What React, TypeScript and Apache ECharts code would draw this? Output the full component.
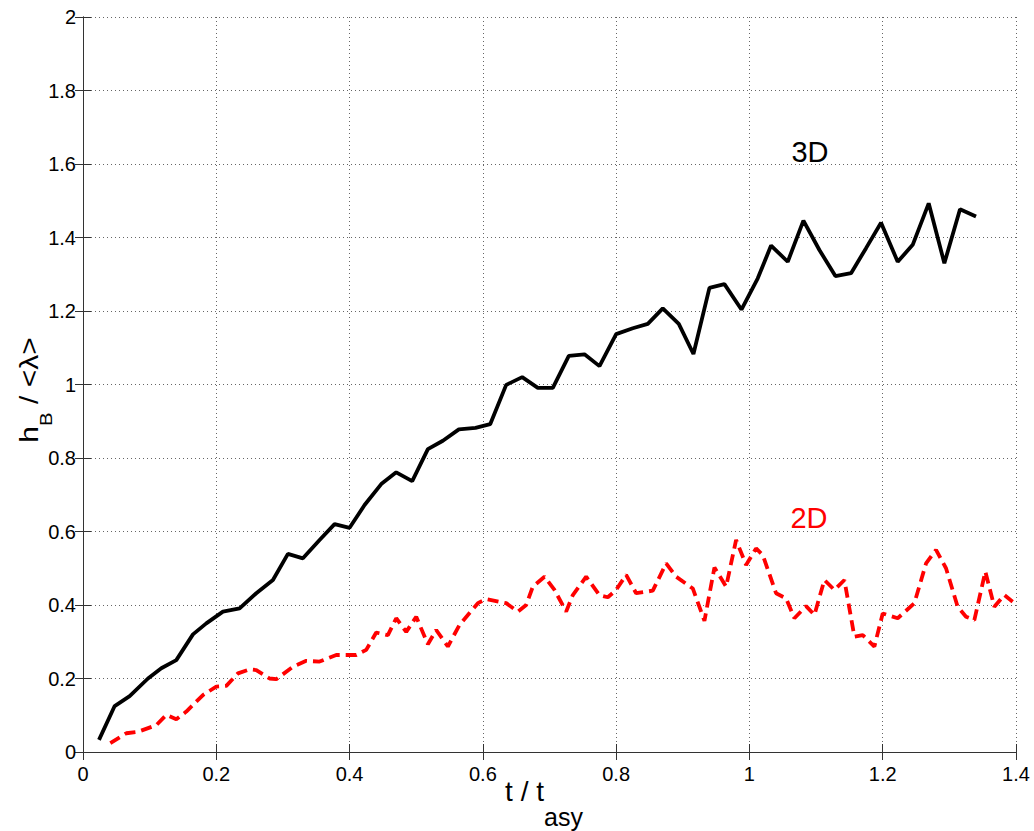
import React, { useEffect, useRef } from "react";
import * as echarts from "echarts";

// Bubble height h_B/<λ> against normalised time t/t_asy, 3D and 2D runs
const t3D = [
  0.024, 0.0475, 0.07, 0.0975, 0.1175, 0.14, 0.165, 0.185, 0.21, 0.235, 0.26, 0.285,
  0.3075, 0.33, 0.355, 0.3775, 0.4, 0.4225, 0.4475, 0.47, 0.494, 0.5175, 0.54, 0.564,
  0.589, 0.611, 0.635, 0.659, 0.6825, 0.705, 0.729, 0.7525, 0.775, 0.8, 0.825, 0.8475,
  0.87, 0.894, 0.916, 0.94, 0.9625, 0.988, 1.0125, 1.0325, 1.0575, 1.081, 1.105, 1.129,
  1.1525, 1.175, 1.1975, 1.2225, 1.245, 1.269, 1.2925, 1.316, 1.34,
];
const h3D = [
  0.033, 0.125, 0.152, 0.2, 0.228, 0.25, 0.32, 0.35, 0.382, 0.391, 0.432, 0.468,
  0.539, 0.527, 0.577, 0.62, 0.61, 0.672, 0.729, 0.761, 0.737, 0.824, 0.847, 0.878,
  0.882, 0.892, 0.999, 1.02, 0.991, 0.991, 1.078, 1.082, 1.05, 1.137, 1.153, 1.165,
  1.207, 1.165, 1.083, 1.263, 1.273, 1.204, 1.289, 1.378, 1.334, 1.446, 1.366, 1.295,
  1.303, 1.371, 1.44, 1.334, 1.38, 1.493, 1.33, 1.477, 1.457,
];

const t2D = [
  0.041, 0.065, 0.0825, 0.11, 0.125, 0.14, 0.155, 0.18, 0.2, 0.215, 0.2325, 0.25, 0.26,
  0.28, 0.29, 0.315, 0.335, 0.355, 0.38, 0.41, 0.425, 0.44, 0.4575, 0.47, 0.485, 0.5,
  0.5175, 0.53, 0.5475, 0.565, 0.5925, 0.605, 0.635, 0.6525, 0.665, 0.675, 0.6925,
  0.7075, 0.725, 0.735, 0.755, 0.775, 0.7875, 0.8, 0.815, 0.83, 0.855, 0.875, 0.89,
  0.915, 0.9325, 0.9475, 0.965, 0.98, 0.995, 1.01, 1.02, 1.04, 1.055, 1.0675, 1.085,
  1.0975, 1.1125, 1.1275, 1.1425, 1.1575, 1.17, 1.1875, 1.2, 1.2225, 1.2475, 1.265,
  1.28, 1.295, 1.3125, 1.325, 1.3375, 1.354, 1.3675, 1.3825, 1.395,
];
const h2D = [
  0.024, 0.051, 0.055, 0.073, 0.101, 0.089, 0.11, 0.155, 0.178, 0.18, 0.214, 0.225, 0.223,
  0.2, 0.198, 0.232, 0.248, 0.246, 0.264, 0.264, 0.278, 0.325, 0.318, 0.364, 0.327, 0.368,
  0.293, 0.332, 0.287, 0.346, 0.405, 0.416, 0.405, 0.382, 0.4, 0.45, 0.477,
  0.441, 0.382, 0.427, 0.477, 0.427, 0.421, 0.441, 0.482, 0.432, 0.439, 0.513, 0.477,
  0.445, 0.357, 0.502, 0.45, 0.577, 0.509, 0.554, 0.536, 0.432, 0.418, 0.364, 0.397,
  0.373, 0.468, 0.441, 0.468, 0.314, 0.318, 0.287, 0.377, 0.364, 0.405, 0.513,
  0.55, 0.5, 0.395, 0.368, 0.359, 0.491, 0.395, 0.427, 0.409,
];

const FONT = "'Liberation Sans', Arial, Helvetica, sans-serif";

const fmtTick = (v: number) => String(Math.round(v * 10) / 10);

export default function App() {
  const ref = useRef<HTMLDivElement>(null);

  useEffect(() => {
    if (!ref.current) return;
    const chart = echarts.init(ref.current, null, { renderer: "svg" });

    const gridLine = { show: true, lineStyle: { color: "#666", width: 1, type: [1, 3] as any } };
    const axisLine = { show: true, lineStyle: { color: "#333", width: 1 } };
    const tick = { show: true, inside: true, length: 8, lineStyle: { color: "#333" } };

    chart.setOption({
      animation: false,
      backgroundColor: "#fff",
      grid: { left: 83, right: 18, top: 17, bottom: 79, containLabel: false },
      xAxis: [
        {
          type: "value",
          min: 0,
          max: 1.4,
          interval: 0.2,
          position: "bottom",
          axisLine,
          axisTick: tick,
          splitLine: gridLine,
          axisLabel: {
            color: "#000",
            fontSize: 20,
            fontFamily: FONT,
            margin: 12,
            formatter: fmtTick,
          },
        },
        {
          type: "value",
          min: 0,
          max: 1.4,
          interval: 0.2,
          position: "top",
          axisLine,
          axisTick: tick,
          splitLine: { show: false },
          axisLabel: { show: false },
        },
      ],
      yAxis: [
        {
          type: "value",
          min: 0,
          max: 2,
          interval: 0.2,
          position: "left",
          axisLine,
          axisTick: tick,
          splitLine: gridLine,
          axisLabel: {
            color: "#000",
            fontSize: 20,
            fontFamily: FONT,
            margin: 7,
            formatter: fmtTick,
          },
        },
        {
          type: "value",
          min: 0,
          max: 2,
          interval: 0.2,
          position: "right",
          axisLine,
          axisTick: tick,
          splitLine: { show: false },
          axisLabel: { show: false },
        },
      ],
      series: [
        {
          name: "3D",
          type: "line",
          data: t3D.map((t, i) => [t, h3D[i]]),
          showSymbol: false,
          symbol: "none",
          lineStyle: { color: "#000", width: 3.8 },
          z: 3,
        },
        {
          name: "2D",
          type: "line",
          data: t2D.map((t, i) => [t, h2D[i]]),
          showSymbol: false,
          symbol: "none",
          lineStyle: { color: "#ff0000", width: 3.8, type: [11, 6] as any, cap: "butt" },
          z: 3,
        },
      ],
      graphic: [
        {
          type: "text",
          x: 810,
          y: 152,
          style: {
            text: "3D",
            fill: "#000",
            font: `29px ${FONT}`,
            align: "center",
            verticalAlign: "middle",
          },
        },
        {
          type: "text",
          x: 809,
          y: 518,
          style: {
            text: "2D",
            fill: "#ff0000",
            font: `29px ${FONT}`,
            align: "center",
            verticalAlign: "middle",
          },
        },
        {
          type: "text",
          x: 544,
          y: 791,
          style: {
            text: "{m|t / t}{s|asy}",
            align: "center",
            verticalAlign: "middle",
            fill: "#000",
            rich: {
              m: { fontSize: 28, fontFamily: FONT, fill: "#000" },
              s: { fontSize: 25, fontFamily: FONT, fill: "#000", padding: [52, 0, 0, 0] },
            },
          },
        },
        {
          type: "text",
          x: 29,
          y: 390,
          rotation: Math.PI / 2,
          scaleX: 1.2,
          style: {
            text: "{m|h}{s|B}{m| / <λ>}",
            align: "center",
            verticalAlign: "middle",
            fill: "#000",
            rich: {
              m: { fontSize: 25, fontFamily: FONT, fill: "#000" },
              s: { fontSize: 17, fontFamily: FONT, fill: "#000", padding: [34, 0, 0, 0] },
            },
          },
        },
      ],
    });

    return () => chart.dispose();
  }, []);

  return (
    <div
      ref={ref}
      style={{ position: "fixed", left: 0, top: 0, width: 1034, height: 831, background: "#fff" }}
    />
  );
}
